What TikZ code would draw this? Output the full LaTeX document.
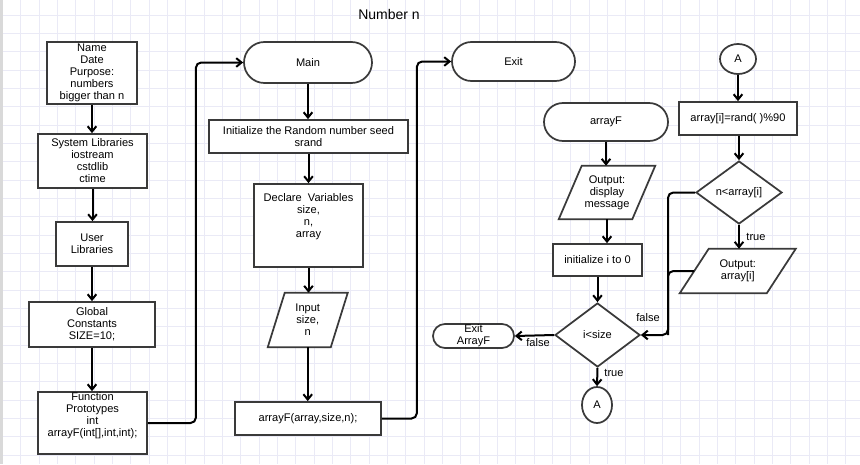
\documentclass[tikz,border=0pt]{standalone}
\usepackage{fontspec}
\setmainfont{Liberation Sans}
\usetikzlibrary{shapes.geometric,shapes.misc,arrows.meta,calc}
\definecolor{shapec}{HTML}{3A3A3A}
\definecolor{gridc}{HTML}{EAEAF6}
\newcommand\pgram[6]{%
  \node[minimum width=#3*0.75pt, minimum height=#4*0.75pt] (#1) at (#2) {};
  \draw[shp] ([xshift=#5*0.75pt]#1.north west) -- ([xshift=#5*0.75pt]#1.north east)
     -- ([xshift=-#5*0.75pt]#1.south east) -- ([xshift=-#5*0.75pt]#1.south west) -- cycle;
  \node (#1t) at (#1.center) {#6};
}
\begin{document}
\begin{tikzpicture}[x=0.75pt,y=-0.75pt,
  every node/.style={font=\fontsize{8.3}{9}\selectfont, align=center, inner sep=0pt},
  shp/.style={draw=shapec, line width=1.3pt, fill=white},
  box/.style 2 args={shp, rectangle, minimum width=#1*0.75pt, minimum height=#2*0.75pt},
  term/.style 2 args={shp, rounded rectangle, minimum width=#1*0.75pt, minimum height=#2*0.75pt},
  dia/.style 2 args={shp, diamond, minimum width=#1*0.75pt, minimum height=#2*0.75pt},
  circ/.style 2 args={shp, ellipse, minimum width=#1*0.75pt, minimum height=#2*0.75pt},
  conn/.style={draw=black, line width=1.5pt, rounded corners=4pt},
  arr/.style={conn, -{Straight Barb[length=4pt,width=6.5pt]}},
  gridline/.style={draw=gridc, line width=0.6pt}
]
\useasboundingbox (0,0) rectangle (860,464);
\fill[white] (0,0) rectangle (860,464);
\foreach \i in {0,...,47} \draw[gridline] ({2.4+18.33*\i},0) -- ({2.4+18.33*\i},464);
\foreach \j in {1,...,26} \draw[gridline] (0,{-3.3+18.33*\j}) -- (860,{-3.3+18.33*\j});
\fill[gray!30] (0,0) rectangle (2.5,464);

\node[font=\fontsize{10.5}{12}\selectfont] (title) at (389,14) {Number n};

% left column
\node[box={90}{62}] (b1) at (92,73) {Name\\Date\\Purpose:\\numbers\\bigger than n};
\node[box={109}{54}] (b2) at (92.5,161) {System Libraries\\iostream\\cstdlib\\ctime};
\node[box={72}{44}] (b3) at (92,244) {User\\Libraries};
\node[box={126}{45}] (b4) at (92,324.5) {Global\\Constants\\SIZE=10;};
\node[box={109}{62}] (b5) at (92.5,423) {};
\node (b5t) at (92.5,415.5) {Function\\Prototypes\\int\\arrayF(int[],int,int);};

% main column
\node[term={128}{41}] (main) at (308,62.5) {Main};
\node[box={199}{33}] (seed) at (308.5,136.5) {Initialize the Random number seed\\srand};
\node[box={109}{83}] (decl) at (308.5,225.5) {};
\node (declt) at (308.5,217) {Declare\ \ Variables\\size,\\n,\\array};
\pgram{inp}{307.75,320}{62.5}{54}{8.5}{Input\\size,\\n}
\node[box={146}{33}] (call) at (308,418.5) {arrayF(array,size,n);};
\node[term={123}{39}] (exit) at (513.5,61.5) {Exit};

% arrayF column
\node[term={124}{38}] (af) at (606,122) {arrayF};
\pgram{outd}{607,192.5}{73}{53}{11.5}{Output:\\display\\message}
\node[box={89}{32}] (initi) at (597.5,260) {initialize i to 0};
\node[dia={85}{64}] (isize) at (597.5,335) {i<size};
\node[term={81}{24}] (exa) at (473.5,336) {Exit\\ArrayF};
\node[circ={30}{36}] (abot) at (597,405) {A};

% right column
\node[circ={36}{30}] (atop) at (738,59) {A};
\node[box={118}{33}] (rnd) at (738,118.5) {array[i]=rand( )\%90};
\node[dia={86}{63}] (nar) at (739,192.5) {n<array[i]};
\pgram{outa}{737.75,271}{86.5}{44}{14.5}{Output:\\array[i]}
\coordinate (fx) at (668,335);

% connectors left column
\draw[arr] (b1.south) -- (b1.south |- b2.north);
\draw[arr] (b2.south) -- (b2.south |- b3.north);
\draw[arr] (b3.south) -- (b3.south |- b4.north);
\draw[arr] (b4.south) -- (b4.south |- b5.north);
\draw[arr] (b5.east) -- ++(48,0) |- (main.west);

% main column
\draw[arr] (main.south) -- (main.south |- seed.north);
\draw[arr] (seed.south) -- (seed.south |- decl.north);
\draw[arr] (decl.south) -- (decl.south |- inp.north);
\draw[arr] (inp.south) -- (inp.south |- call.north);
\draw[arr] (call.east) -- ++(35,0) |- (exit.west);

% arrayF column
\draw[arr] (af.south) -- (af.south |- outd.north);
\draw[arr] (outd.south) -- (outd.south |- initi.north);
\draw[arr] (initi.south -| isize.north) -- (isize.north);
\draw[arr] (isize.west) -- (exa.east);
\node (lf1) at (538,343) {false};
\draw[arr] (isize.south) -- (abot.north);
\node (lt1) at (614,373) {true};

% right column
\draw[arr] (atop.south) -- (atop.south |- rnd.north);
\draw[arr] (rnd.south -| nar.north) -- (nar.north);
\draw[arr] (nar.south) -- (nar.south |- outa.north);
\node (lt2) at (756,237) {true};
\draw[conn] (outa.west) -| (fx);
\draw[arr] (nar.west) -| (fx) -- (isize.east);
\node (lf2) at (648,318) {false};
\end{tikzpicture}
\end{document}
